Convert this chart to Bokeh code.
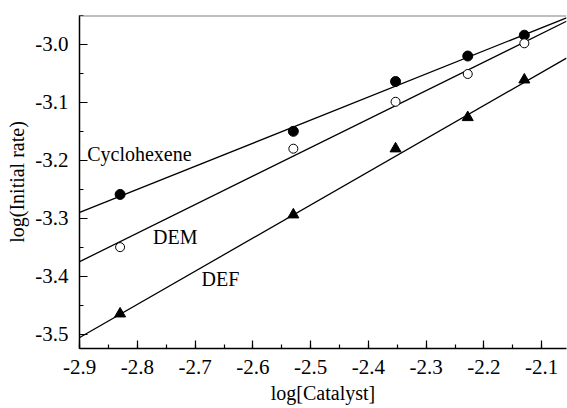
from bokeh.plotting import figure
from bokeh.models import Range1d, SingleIntervalTicker, NumeralTickFormatter, Span, Label
from bokeh.embed import file_html
from bokeh.resources import INLINE

# Data
log_catalyst = [-2.83, -2.53, -2.353, -2.228, -2.13]
cyclohexene = [-3.259, -3.150, -3.064, -3.020, -2.984]
dem = [-3.350, -3.180, -3.099, -3.051, -2.998]
def_ = [-3.465, -3.294, -3.180, -3.126, -3.061]

# Fitted lines (at the frame edges)
fit_x = [-2.90, -2.057]
cyclohexene_fit = [-3.290, -2.954]
dem_fit = [-3.375, -2.960]
def_fit = [-3.506, -3.0235]

series_labels = ["Cyclohexene", "DEM", "DEF"]
label_x = [-2.887, -2.773, -2.689]
label_y = [-3.189, -3.333, -3.405]

FONT = "Liberation Serif"

p = figure(width=567, height=408, output_backend="svg", toolbar_location=None,
           x_range=Range1d(-2.9003, -2.057), y_range=Range1d(-3.525, -2.95),
           min_border_left=79, min_border_right=1, min_border_top=15, min_border_bottom=60)
p.outline_line_color = None
p.grid.visible = False
p.background_fill_color = "white"
p.border_fill_color = "white"

for ax in (p.xaxis[0], p.yaxis[0]):
    ax.ticker = SingleIntervalTicker(interval=0.1, num_minor_ticks=2)
    ax.formatter = NumeralTickFormatter(format="0.0")
    ax.axis_line_color = "black"
    ax.axis_line_width = 1.5
    ax.major_tick_in = 8
    ax.major_tick_out = 0
    ax.minor_tick_in = 4
    ax.minor_tick_out = 0
    ax.major_tick_line_width = 1.2
    ax.minor_tick_line_width = 1.2
    ax.major_label_text_font = FONT
    ax.major_label_text_font_size = "21px"
    ax.major_label_text_color = "black"
    ax.axis_label_text_font = FONT
    ax.axis_label_text_font_size = "20px"
    ax.axis_label_text_font_style = "normal"
    ax.axis_label_text_color = "black"

p.xaxis.axis_label = "log[Catalyst]"
p.yaxis.axis_label = "log(Initial rate)"
p.xaxis.major_label_standoff = 11
p.yaxis.major_label_standoff = 11
p.xaxis.axis_label_standoff = 5
p.yaxis.axis_label_standoff = 4

p.add_layout(Span(location=-2.95, dimension="width", line_color="#808080", line_width=2))

p.line(fit_x, cyclohexene_fit, line_color="black", line_width=1.3)
p.line(fit_x, dem_fit, line_color="black", line_width=1.3)
p.line(fit_x, def_fit, line_color="black", line_width=1.3)

p.scatter(log_catalyst, cyclohexene, marker="circle", size=10, fill_color="black", line_color="black")
p.scatter(log_catalyst, dem, marker="circle", size=9, fill_color="white", line_color="black", line_width=1)
p.scatter(log_catalyst, def_, marker="triangle", size=11, fill_color="black", line_color="black")

for t, lx, ly in zip(series_labels, label_x, label_y):
    p.add_layout(Label(x=lx, y=ly, text=t, text_font=FONT, text_font_size="20px",
                       text_color="black", text_baseline="middle", text_align="left"))

open("out.html", "w").write(file_html(p, INLINE))
